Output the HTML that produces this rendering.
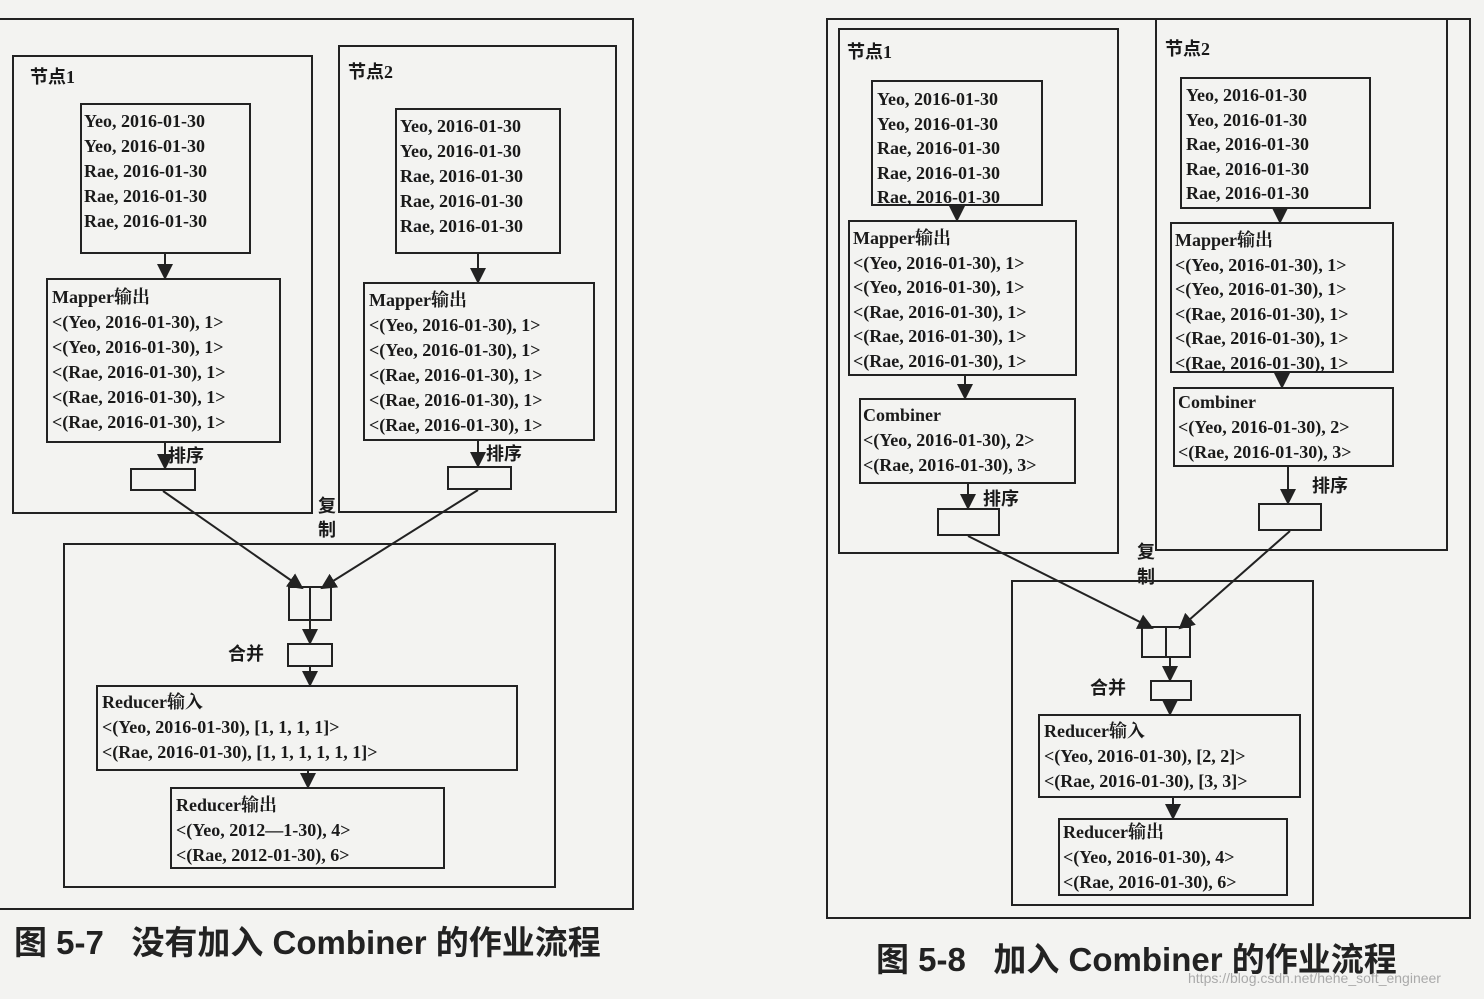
<!DOCTYPE html>
<html><head><meta charset="utf-8"><style>
html,body{margin:0;padding:0;}
body{width:1484px;height:999px;position:relative;overflow:hidden;background:#f3f3f1;font-family:"Liberation Serif","Noto Serif CJK SC",serif;color:#1a1a1a;}
.b{position:absolute;border:2px solid #222;box-sizing:border-box;}
.t{position:absolute;font-size:18px;line-height:25px;white-space:pre;font-weight:bold;}
.lab{position:absolute;font-size:18px;font-weight:bold;font-family:"Liberation Serif","Noto Sans CJK SC",serif;}
.cap{position:absolute;font-size:33px;font-family:"Liberation Sans","Noto Sans CJK SC",sans-serif;font-weight:bold;color:#222;white-space:pre;}
svg{position:absolute;left:0;top:0;}
</style></head><body>
<!-- LEFT FIGURE -->
<div class="b" style="left:0;top:18px;width:634px;height:892px;border-left:none"></div>
<div class="b" style="left:12px;top:55px;width:301px;height:459px"></div>
<div class="lab" style="left:30px;top:63px">节点1</div>
<div class="b" style="left:80px;top:103px;width:171px;height:151px"></div>
<div class="t" style="left:84px;top:109px">Yeo, 2016-01-30
Yeo, 2016-01-30
Rae, 2016-01-30
Rae, 2016-01-30
Rae, 2016-01-30</div>
<div class="b" style="left:46px;top:278px;width:235px;height:165px"></div>
<div class="t" style="left:52px;top:285px">Mapper输出
&lt;(Yeo, 2016-01-30), 1&gt;
&lt;(Yeo, 2016-01-30), 1&gt;
&lt;(Rae, 2016-01-30), 1&gt;
&lt;(Rae, 2016-01-30), 1&gt;
&lt;(Rae, 2016-01-30), 1&gt;</div>
<div class="b" style="left:130px;top:468px;width:66px;height:23px"></div>
<div class="lab" style="left:168px;top:442px">排序</div>

<div class="b" style="left:338px;top:45px;width:279px;height:468px"></div>
<div class="lab" style="left:348px;top:58px">节点2</div>
<div class="b" style="left:395px;top:108px;width:166px;height:146px"></div>
<div class="t" style="left:400px;top:114px">Yeo, 2016-01-30
Yeo, 2016-01-30
Rae, 2016-01-30
Rae, 2016-01-30
Rae, 2016-01-30</div>
<div class="b" style="left:363px;top:282px;width:232px;height:159px"></div>
<div class="t" style="left:369px;top:288px">Mapper输出
&lt;(Yeo, 2016-01-30), 1&gt;
&lt;(Yeo, 2016-01-30), 1&gt;
&lt;(Rae, 2016-01-30), 1&gt;
&lt;(Rae, 2016-01-30), 1&gt;
&lt;(Rae, 2016-01-30), 1&gt;</div>
<div class="b" style="left:447px;top:466px;width:65px;height:24px"></div>
<div class="lab" style="left:486px;top:440px">排序</div>

<div class="lab" style="left:318px;top:494px;line-height:24px">复<br>制</div>
<div class="b" style="left:63px;top:543px;width:493px;height:345px"></div>
<div class="b" style="left:288px;top:586px;width:44px;height:35px"></div>
<div class="b" style="left:309px;top:586px;width:2px;height:35px;border-width:0 0 0 2px"></div>
<div class="lab" style="left:228px;top:640px">合并</div>
<div class="b" style="left:287px;top:643px;width:46px;height:24px"></div>
<div class="b" style="left:96px;top:685px;width:422px;height:86px"></div>
<div class="t" style="left:102px;top:690px">Reducer输入
&lt;(Yeo, 2016-01-30), [1, 1, 1, 1]&gt;
&lt;(Rae, 2016-01-30), [1, 1, 1, 1, 1, 1]&gt;</div>
<div class="b" style="left:170px;top:787px;width:275px;height:82px"></div>
<div class="t" style="left:176px;top:793px">Reducer输出
&lt;(Yeo, 2012—1-30), 4&gt;
&lt;(Rae, 2012-01-30), 6&gt;</div>
<div class="cap" style="left:14px;top:916px">图 5-7   没有加入 Combiner 的作业流程</div>

<!-- RIGHT FIGURE -->
<div class="b" style="left:826px;top:18px;width:645px;height:901px"></div>
<div class="b" style="left:838px;top:28px;width:281px;height:526px"></div>
<div class="lab" style="left:847px;top:38px">节点1</div>
<div class="b" style="left:871px;top:80px;width:172px;height:126px"></div>
<div class="t" style="left:877px;top:87px;line-height:24.5px">Yeo, 2016-01-30
Yeo, 2016-01-30
Rae, 2016-01-30
Rae, 2016-01-30
Rae, 2016-01-30</div>
<div class="b" style="left:848px;top:220px;width:229px;height:156px"></div>
<div class="t" style="left:853px;top:226px;line-height:24.5px">Mapper输出
&lt;(Yeo, 2016-01-30), 1&gt;
&lt;(Yeo, 2016-01-30), 1&gt;
&lt;(Rae, 2016-01-30), 1&gt;
&lt;(Rae, 2016-01-30), 1&gt;
&lt;(Rae, 2016-01-30), 1&gt;</div>
<div class="b" style="left:859px;top:398px;width:217px;height:86px"></div>
<div class="t" style="left:863px;top:403px">Combiner
&lt;(Yeo, 2016-01-30), 2&gt;
&lt;(Rae, 2016-01-30), 3&gt;</div>
<div class="b" style="left:937px;top:508px;width:63px;height:28px"></div>
<div class="lab" style="left:983px;top:485px">排序</div>

<div class="b" style="left:1155px;top:18px;width:293px;height:533px"></div>
<div class="lab" style="left:1165px;top:35px">节点2</div>
<div class="b" style="left:1180px;top:77px;width:191px;height:132px"></div>
<div class="t" style="left:1186px;top:83px;line-height:24.5px">Yeo, 2016-01-30
Yeo, 2016-01-30
Rae, 2016-01-30
Rae, 2016-01-30
Rae, 2016-01-30</div>
<div class="b" style="left:1170px;top:222px;width:224px;height:151px"></div>
<div class="t" style="left:1175px;top:228px;line-height:24.5px">Mapper输出
&lt;(Yeo, 2016-01-30), 1&gt;
&lt;(Yeo, 2016-01-30), 1&gt;
&lt;(Rae, 2016-01-30), 1&gt;
&lt;(Rae, 2016-01-30), 1&gt;
&lt;(Rae, 2016-01-30), 1&gt;</div>
<div class="b" style="left:1173px;top:387px;width:221px;height:80px"></div>
<div class="t" style="left:1178px;top:390px">Combiner
&lt;(Yeo, 2016-01-30), 2&gt;
&lt;(Rae, 2016-01-30), 3&gt;</div>
<div class="b" style="left:1258px;top:503px;width:64px;height:28px"></div>
<div class="lab" style="left:1312px;top:472px">排序</div>

<div class="lab" style="left:1137px;top:540px;line-height:25px">复<br>制</div>
<div class="b" style="left:1011px;top:580px;width:303px;height:326px"></div>
<div class="b" style="left:1141px;top:626px;width:50px;height:32px"></div>
<div class="b" style="left:1165px;top:626px;width:2px;height:32px;border-width:0 0 0 2px"></div>
<div class="lab" style="left:1090px;top:674px">合并</div>
<div class="b" style="left:1150px;top:680px;width:42px;height:21px"></div>
<div class="b" style="left:1038px;top:714px;width:263px;height:84px"></div>
<div class="t" style="left:1044px;top:719px">Reducer输入
&lt;(Yeo, 2016-01-30), [2, 2]&gt;
&lt;(Rae, 2016-01-30), [3, 3]&gt;</div>
<div class="b" style="left:1058px;top:818px;width:230px;height:78px"></div>
<div class="t" style="left:1063px;top:820px">Reducer输出
&lt;(Yeo, 2016-01-30), 4&gt;
&lt;(Rae, 2016-01-30), 6&gt;</div>
<div class="cap" style="left:876px;top:933px">图 5-8   加入 Combiner 的作业流程</div>
<div style="position:absolute;left:1188px;top:970px;font-size:14px;color:#aaa;font-family:'Liberation Sans',sans-serif">https://blog.csdn.net/hehe_soft_engineer</div>

<svg width="1484" height="999">
<defs><marker id="a" markerWidth="8" markerHeight="8" refX="7" refY="4" orient="auto"><path d="M0,0 L8,4 L0,8 z" fill="#222"/></marker></defs>
<g stroke="#222" stroke-width="2" fill="none" marker-end="url(#a)">
<line x1="165" y1="254" x2="165" y2="278"/>
<line x1="165" y1="443" x2="165" y2="468"/>
<line x1="478" y1="254" x2="478" y2="282"/>
<line x1="478" y1="441" x2="478" y2="466"/>
<line x1="163" y1="491" x2="302" y2="588"/>
<line x1="478" y1="490" x2="322" y2="588"/>
<line x1="310" y1="621" x2="310" y2="643"/>
<line x1="310" y1="667" x2="310" y2="685"/>
<line x1="308" y1="771" x2="308" y2="787"/>
<line x1="957" y1="206" x2="957" y2="220"/>
<line x1="965" y1="376" x2="965" y2="398"/>
<line x1="968" y1="484" x2="968" y2="508"/>
<line x1="1280" y1="209" x2="1280" y2="222"/>
<line x1="1282" y1="373" x2="1282" y2="387"/>
<line x1="1288" y1="467" x2="1288" y2="503"/>
<line x1="968" y1="536" x2="1152" y2="628"/>
<line x1="1290" y1="531" x2="1180" y2="628"/>
<line x1="1170" y1="658" x2="1170" y2="680"/>
<line x1="1170" y1="701" x2="1170" y2="714"/>
<line x1="1173" y1="798" x2="1173" y2="818"/>
</g>
</svg>
</body></html>
